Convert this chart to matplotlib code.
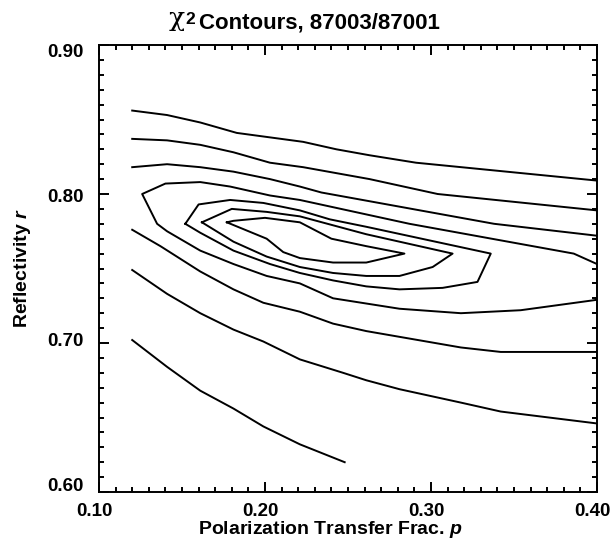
import matplotlib

matplotlib.use("Agg")

import matplotlib.pyplot as plt
from matplotlib.ticker import MultipleLocator, FormatStrFormatter
from matplotlib.transforms import ScaledTranslation

# contour levels: (p, r) vertices of each line
l1_p = [0.120, 0.141, 0.161, 0.183, 0.203, 0.223, 0.243, 0.263, 0.291, 0.400]
l1_r = [0.856, 0.853, 0.848, 0.841, 0.838, 0.835, 0.830, 0.826, 0.821, 0.809]

l2_p = [0.120, 0.141, 0.161, 0.181, 0.203, 0.223, 0.243, 0.263, 0.304, 0.400]
l2_r = [0.837, 0.836, 0.833, 0.828, 0.821, 0.818, 0.814, 0.810, 0.800, 0.789]

l3_p = [0.120, 0.141, 0.161, 0.181, 0.203, 0.221, 0.234, 0.338, 0.400]
l3_r = [0.818, 0.820, 0.818, 0.815, 0.810, 0.805, 0.801, 0.780, 0.772]

# outer level: opens to the right edge
l4_p = [0.400, 0.386, 0.287, 0.221, 0.203, 0.195, 0.179, 0.161, 0.140, 0.126,
        0.135, 0.141, 0.161, 0.181, 0.201, 0.221, 0.241, 0.281, 0.318, 0.354, 0.400]
l4_r = [0.753, 0.760, 0.780, 0.796, 0.799, 0.801, 0.805, 0.808, 0.807, 0.800,
        0.780, 0.775, 0.762, 0.753, 0.745, 0.740, 0.730, 0.723, 0.720, 0.722, 0.729]

# closed levels around the minimum
c1_p = [0.152, 0.160, 0.179, 0.199, 0.221, 0.239, 0.261, 0.336,
        0.328, 0.307, 0.281, 0.261, 0.241, 0.221, 0.203, 0.181, 0.161, 0.152]
c1_r = [0.780, 0.793, 0.796, 0.794, 0.789, 0.783, 0.778, 0.760,
        0.741, 0.737, 0.736, 0.738, 0.742, 0.747, 0.753, 0.762, 0.774, 0.780]

c2_p = [0.162, 0.180, 0.201, 0.221, 0.241, 0.261, 0.313,
        0.301, 0.281, 0.261, 0.241, 0.221, 0.201, 0.181, 0.162]
c2_r = [0.781, 0.790, 0.788, 0.785, 0.779, 0.773, 0.760,
        0.751, 0.745, 0.745, 0.747, 0.751, 0.758, 0.768, 0.781]

c3_p = [0.177, 0.181, 0.200, 0.221, 0.240, 0.261, 0.284,
        0.261, 0.241, 0.221, 0.211, 0.201, 0.177]
c3_r = [0.781, 0.782, 0.784, 0.781, 0.770, 0.765, 0.760,
        0.754, 0.754, 0.757, 0.761, 0.770, 0.781]

l5_p = [0.120, 0.137, 0.161, 0.181, 0.199, 0.221, 0.241, 0.261, 0.318, 0.342, 0.400]
l5_r = [0.776, 0.765, 0.748, 0.736, 0.727, 0.721, 0.713, 0.708, 0.697, 0.694, 0.694]

l6_p = [0.120, 0.141, 0.161, 0.181, 0.199, 0.221, 0.247, 0.261, 0.281, 0.318, 0.342, 0.400]
l6_r = [0.749, 0.733, 0.720, 0.709, 0.701, 0.689, 0.680, 0.675, 0.669, 0.660, 0.654, 0.646]

l7_p = [0.120, 0.141, 0.161, 0.181, 0.199, 0.221, 0.248]
l7_r = [0.702, 0.684, 0.668, 0.656, 0.644, 0.632, 0.620]

levels = [(l1_p, l1_r), (l2_p, l2_r), (l3_p, l3_r), (l4_p, l4_r),
          (c1_p, c1_r), (c2_p, c2_r), (c3_p, c3_r),
          (l5_p, l5_r), (l6_p, l6_r), (l7_p, l7_r)]

title = "Contours, 87003/87001"

plt.rcParams["font.family"] = "Liberation Sans"
plt.rcParams["font.weight"] = "bold"
plt.rcParams["mathtext.fontset"] = "custom"
plt.rcParams["mathtext.rm"] = "Liberation Sans:bold"
plt.rcParams["mathtext.it"] = "Liberation Sans:bold:italic"

W, H = 613, 554
fig = plt.figure(figsize=(W / 100, H / 100), dpi=100)
ax = fig.add_axes([99 / W, 1 - 492 / H, 498 / W, 447 / H])

for p, r in levels:
    ax.plot(p, r, color="black", lw=1.4)

ax.set_xlim(0.10, 0.40)
ax.set_ylim(0.60, 0.90)
ax.xaxis.set_major_locator(MultipleLocator(0.10))
ax.xaxis.set_minor_locator(MultipleLocator(0.01))
ax.yaxis.set_major_locator(MultipleLocator(0.10))
ax.yaxis.set_minor_locator(MultipleLocator(0.01))
ax.xaxis.set_major_formatter(FormatStrFormatter("%.2f"))
ax.yaxis.set_major_formatter(FormatStrFormatter("%.2f"))
ax.tick_params(which="both", direction="in", top=True, right=True,
               width=1.4, labelsize=13.5)
ax.tick_params(which="major", length=7)
ax.tick_params(which="minor", length=3.5)
ax.tick_params(axis="x", pad=8)
ax.tick_params(axis="y", pad=11)
for s in ax.spines.values():
    s.set_linewidth(1.4)

# tick labels in the original are a little off their ticks
fig.canvas.draw()
for lab in ax.get_xticklabels():
    lab.set_transform(lab.get_transform() + ScaledTranslation(-0.05, 0, fig.dpi_scale_trans))
for lab in ax.get_yticklabels():
    v = lab.get_position()[1]
    dy = -(-1 + 42 * (v - 0.75)) / 100
    lab.set_transform(lab.get_transform() + ScaledTranslation(0, dy, fig.dpi_scale_trans))

ax.set_xlabel("Polarization Transfer Frac. $p$", fontsize=14, fontweight="bold", labelpad=3)
ax.xaxis.set_label_coords((330 - 99) / 498, -0.06)
ax.xaxis.label.set_va("top")
ax.set_ylabel("Reflectivity $r$", fontsize=14, fontweight="bold", labelpad=10)

# title: chi, a raised 2, then the text, built right to left
renderer = fig.canvas.get_renderer()
t_main = fig.text(440 / W, 1 - 28.5 / H, title, ha="right", va="baseline",
                  fontsize=16, fontweight="bold")
x0 = t_main.get_window_extent(renderer).x0
t_sup = fig.text((x0 - 4) / W, 1 - 24.5 / H, "2", ha="right", va="baseline",
                 fontsize=12.5, fontweight="bold")
x1 = t_sup.get_window_extent(renderer).x0
fig.text((x1 - 1) / W, 1 - 26 / H, "χ", ha="right", va="baseline",
         fontsize=19, fontweight="normal", family="DejaVu Serif")

fig.savefig("out.png", dpi=100)
